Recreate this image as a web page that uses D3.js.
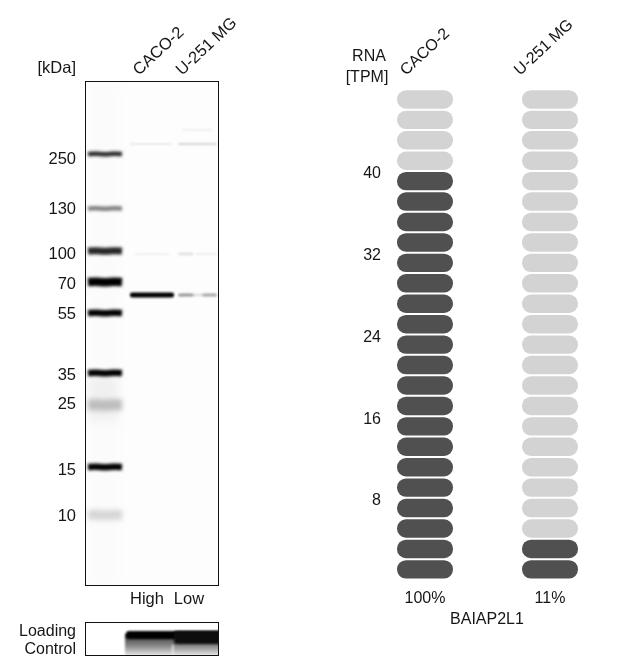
<!DOCTYPE html>
<html><head><meta charset="utf-8">
<script src="https://cdn.jsdelivr.net/npm/d3@7/dist/d3.min.js"></script>
<style>
html,body{margin:0;padding:0;background:#fff}
svg{display:block;filter:blur(0.35px)}
text{font-family:"Liberation Sans",Arial,sans-serif;fill:#161616;font-size:16.5px}
text.small{font-size:16px}
</style></head><body><svg id="c" width="640" height="660"></svg>
<script>
// ---- data ----
const cellLines = ["CACO-2", "U-251 MG"];
const rnaTpm = [40.6, 4.4];
const rnaPercent = ["100%", "11%"];
const rnaTicks = [8, 16, 24, 32, 40];
const rnaLevelCount = 24;
const rnaLevelStep = 2;
const geneName = "BAIAP2L1";

const ladderKDa = [250, 130, 100, 70, 55, 35, 25, 15, 10];
const ladderMigration = [73, 127.5, 170, 201, 232, 292, 324, 386, 434];   // band centre below top of membrane
const labelMigration = [77, 127, 172, 202, 232, 293, 322, 388, 434];
const ladderIntensity = [.85, .5, .85, 1, 1, 1, .26, 1, .16];
const ladderThickness = [4.5, 4.5, 7, 8.5, 6.5, 6.5, 11, 6.5, 10];

const bandLanes = ["CACO-2", "U-251 MG", "U-251 MG", "U-251 MG", "CACO-2", "U-251 MG", "U-251 MG", "CACO-2", "U-251 MG", "U-251 MG"];
const bandMigration = [214, 214, 214, 214, 173, 173, 173, 63, 63, 49];
const bandIntensity = [1, .12, .32, .26, .05, .12, .06, .08, .16, .05];
const bandThickness = [5, 2.5, 3, 3, 2, 2.5, 2, 2, 2, 2];
const bandFrom = [0, 0, 0, .62, .1, 0, .45, 0, 0, .1];
const bandTo = [1, 1, .4, 1, .9, .4, 1, .95, 1, .9];

const loadingLabels = ["Loading", "Control"];
const doseLabels = ["High", "Low"];

// ---- layout ----
const svg = d3.select("#c");
const mem = {x0: 85, x1: 218, y0: 81, y1: 585};
const y = d3.scaleLinear().domain([0, 504]).range([mem.y0, mem.y1]);
const laneX = {Ladder: [88, 122], "CACO-2": [130, 174], "U-251 MG": [178, 217]};
const defs = svg.append("defs");
[["b1", 1.5], ["b2", 2.6], ["b3", 5], ["b4", 1.0]].forEach(([id, s]) => {
  defs.append("filter").attr("id", id).attr("filterUnits", "userSpaceOnUse")
    .attr("x", 0).attr("y", 0).attr("width", 640).attr("height", 660)
    .append("feGaussianBlur").attr("stdDeviation", s);
});
const clip = defs.append("clipPath").attr("id", "memClip");
clip.append("rect").attr("x", mem.x0).attr("y", mem.y0).attr("width", mem.x1 - mem.x0).attr("height", mem.y1 - mem.y0);
const lcClip = defs.append("clipPath").attr("id", "lcClip");
lcClip.append("rect").attr("x", 85).attr("y", 622).attr("width", 133).attr("height", 33);
const smear = defs.append("linearGradient").attr("id", "smear").attr("x1", 0).attr("x2", 0).attr("y1", 0).attr("y2", 1);
smear.append("stop").attr("offset", 0).attr("stop-color", "#333");
smear.append("stop").attr("offset", .55).attr("stop-color", "#8a8a8a");
smear.append("stop").attr("offset", 1).attr("stop-color", "#ececec");

// ---- membrane ----
const gMem = svg.append("g").attr("clip-path", "url(#memClip)");
gMem.append("rect").attr("x", mem.x0).attr("y", mem.y0).attr("width", 133).attr("height", 504).attr("fill", "#fdfdfd");
gMem.append("rect").attr("x", 88).attr("y", y(0)).attr("width", 32).attr("height", 504).attr("fill", "#fbfbfb").attr("filter", "url(#b3)");
gMem.append("rect").attr("x", 88).attr("y", y(295)).attr("width", 30).attr("height", 45).attr("fill", "#f0f0f0").attr("filter", "url(#b3)");

const darkness = d3.scaleLinear().domain([0, 1]).range(["#ffffff", "#000000"]);
gMem.selectAll(".ladder").data(ladderKDa).join("path").attr("class", "ladder")
  .attr("d", (d, i) => {
    const [a, b] = laneX.Ladder, c = y(ladderMigration[i]);
    return d3.line().curve(d3.curveBasis)([[a, c], [(a * 3 + b) / 4, c - .5], [(a + b) / 2, c + .8], [(a + b * 3) / 4, c - .5], [b, c]]);
  })
  .attr("fill", "none").attr("stroke-width", (d, i) => ladderThickness[i])
  .attr("stroke", (d, i) => darkness(ladderIntensity[i]))
  .attr("filter", (d, i) => ladderIntensity[i] < .4 ? "url(#b2)" : "url(#b1)");

gMem.selectAll(".band").data(bandLanes).join("rect").attr("class", "band")
  .attr("x", (d, i) => laneX[d][0] + bandFrom[i] * (laneX[d][1] - laneX[d][0]))
  .attr("width", (d, i) => (bandTo[i] - bandFrom[i]) * (laneX[d][1] - laneX[d][0]))
  .attr("y", (d, i) => y(bandMigration[i]) - bandThickness[i] / 2)
  .attr("height", (d, i) => bandThickness[i])
  .attr("rx", 2)
  .attr("fill", (d, i) => darkness(bandIntensity[i]))
  .style("mix-blend-mode", "multiply")
  .attr("filter", "url(#b4)");

svg.append("rect").attr("x", mem.x0 + .5).attr("y", mem.y0 + .5).attr("width", 133).attr("height", 504)
  .attr("fill", "none").attr("stroke", "#111").attr("stroke-width", 1);

// left labels
svg.selectAll(".kda").data(ladderKDa).join("text").attr("class", "kda")
  .attr("x", 76).attr("y", (d, i) => y(labelMigration[i])).attr("dy", "0.36em").attr("text-anchor", "end").text(d => d);
svg.append("text").attr("x", 76).attr("y", 73).attr("text-anchor", "end").text("[kDa]");
const blotLabelX = [139, 182];
svg.selectAll(".blotLab").data(cellLines).join("text").attr("class", "blotLab")
  .attr("transform", (d, i) => `translate(${blotLabelX[i]},76) rotate(-43)`).text(d => d);
const doseX = [147, 189];
svg.selectAll(".dose").data(doseLabels).join("text").attr("class", "dose")
  .attr("x", (d, i) => doseX[i]).attr("y", 604).attr("text-anchor", "middle").text(d => d);

// loading control
const gLc = svg.append("g").attr("clip-path", "url(#lcClip)");
gLc.append("rect").attr("x", 125).attr("y", 634).attr("width", 100).attr("height", 22).attr("fill", "url(#smear)").attr("filter", "url(#b4)");
gLc.append("rect").attr("x", 126).attr("y", 631).attr("width", 100).attr("height", 8).attr("rx", 3).attr("fill", "#050505").attr("filter", "url(#b4)");
gLc.append("rect").attr("x", 174).attr("y", 631).attr("width", 50).attr("height", 13).attr("rx", 3).attr("fill", "#080808").attr("filter", "url(#b4)");
gLc.append("rect").attr("x", 172).attr("y", 645).attr("width", 1.5).attr("height", 11).attr("fill", "#eee").attr("filter", "url(#b4)");
svg.append("rect").attr("x", 85.5).attr("y", 622.5).attr("width", 133).attr("height", 33)
  .attr("fill", "none").attr("stroke", "#111");
svg.selectAll(".lc").data(loadingLabels).join("text").attr("class", "lc small")
  .attr("x", 76).attr("y", (d, i) => 636 + i * 18).attr("text-anchor", "end").text(d => d);

// ---- RNA panel ----
const rnaY = d3.scaleLinear().domain([0, rnaLevelCount * rnaLevelStep]).range([580, 89.6]);
const rnaX = d3.scaleOrdinal().domain(cellLines).range([397, 522]);
const pillW = 56;
const levels = d3.range(rnaLevelCount);
const cols = svg.selectAll(".col").data(cellLines).join("g").attr("class", "col");
cols.selectAll("rect").data((d, i) => levels.map(l => ({l, on: (l + 1) * rnaLevelStep <= rnaTpm[i], c: d}))).join("rect")
  .attr("x", d => rnaX(d.c)).attr("width", pillW)
  .attr("y", d => rnaY((d.l + 1) * rnaLevelStep) + .6)
  .attr("height", rnaY(0) - rnaY(rnaLevelStep) - 2)
  .attr("rx", 9).attr("ry", 9)
  .attr("fill", d => d.on ? "#505050" : "#d3d3d3");

const axis = d3.axisLeft(rnaY).tickValues(rnaTicks).tickSize(0).tickPadding(0).tickFormat(d3.format("d"));
const gAxis = svg.append("g").attr("transform", "translate(381,1.5)").call(axis);
gAxis.select(".domain").remove();
gAxis.selectAll("text").attr("font-size", null).style("font-family", '"Liberation Sans"').style("font-size", "16px").style("fill", "#161616");

svg.append("text").attr("class", "small").attr("x", 369).attr("y", 61).attr("text-anchor", "middle").text("RNA");
svg.append("text").attr("class", "small").attr("x", 367).attr("y", 82).attr("text-anchor", "middle").text("[TPM]");
const rnaLabelX = [406, 520];
svg.selectAll(".rnaLab").data(cellLines).join("text").attr("class", "rnaLab small")
  .attr("transform", (d, i) => `translate(${rnaLabelX[i]},76) rotate(-43)`).text(d => d);
svg.selectAll(".pct").data(rnaPercent).join("text").attr("class", "pct small")
  .attr("x", (d, i) => rnaX(cellLines[i]) + pillW / 2).attr("y", 603).attr("text-anchor", "middle").text(d => d);
svg.append("text").attr("class", "small").attr("x", 487).attr("y", 624).attr("text-anchor", "middle").text(geneName);
</script></body></html>
